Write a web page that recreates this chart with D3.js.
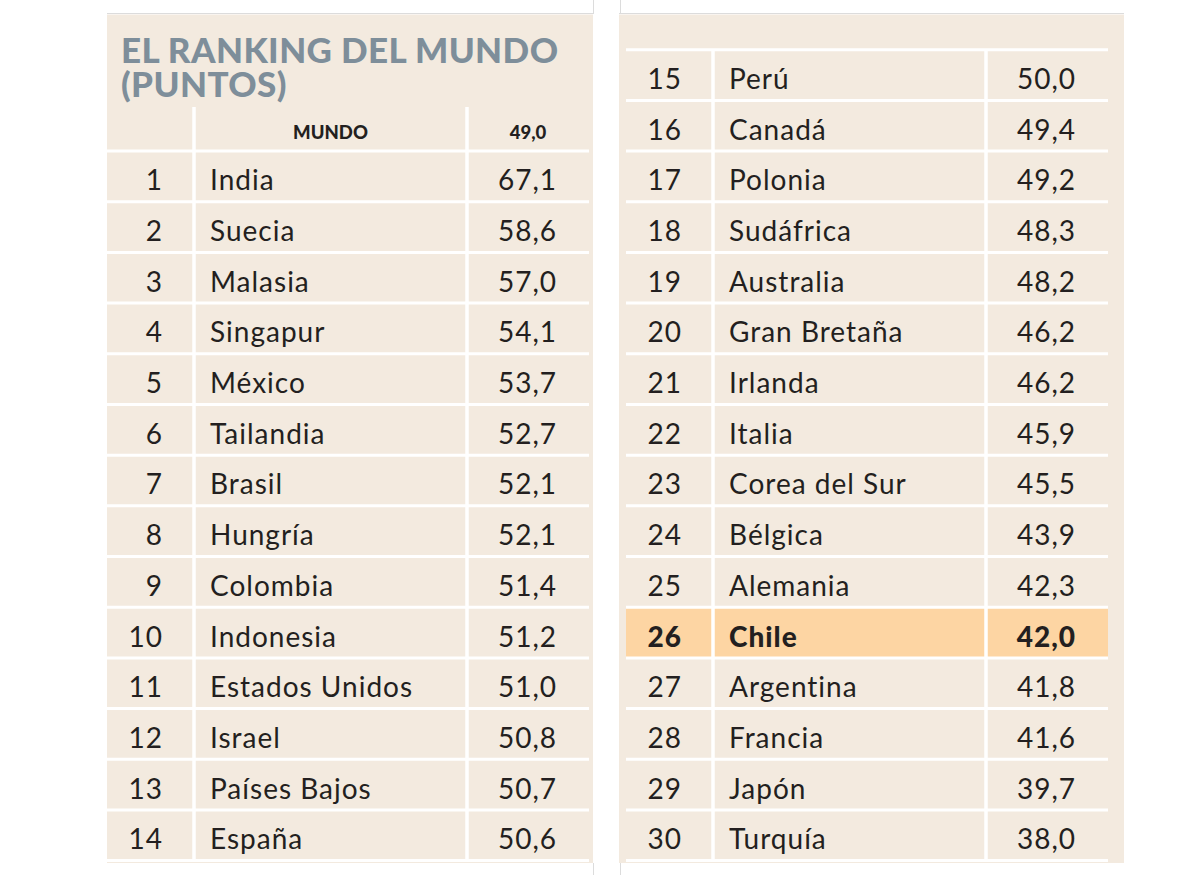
<!DOCTYPE html>
<html>
<head>
<meta charset="utf-8">
<script src="https://cdn.jsdelivr.net/npm/d3@7/dist/d3.min.js"></script>
<style>
  html, body { margin: 0; padding: 0; background: #ffffff; }
  svg { display: block; }
</style>
</head>
<body>
<svg id="chart" width="1200" height="875"></svg>
<script>
// ---- data ----
const title = ["EL RANKING DEL MUNDO", "(PUNTOS)"];
const headerLabel = "MUNDO";
const headerValue = 49.0;
const ranks = d3.range(1, 31);
const countries = ["India", "Suecia", "Malasia", "Singapur", "México", "Tailandia", "Brasil",
  "Hungría", "Colombia", "Indonesia", "Estados Unidos", "Israel", "Países Bajos", "España",
  "Perú", "Canadá", "Polonia", "Sudáfrica", "Australia", "Gran Bretaña", "Irlanda", "Italia",
  "Corea del Sur", "Bélgica", "Alemania", "Chile", "Argentina", "Francia", "Japón", "Turquía"];
const values = [67.1, 58.6, 57.0, 54.1, 53.7, 52.7, 52.1, 52.1, 51.4, 51.2, 51.0, 50.8, 50.7, 50.6,
  50.0, 49.4, 49.2, 48.3, 48.2, 46.2, 46.2, 45.9, 45.5, 43.9, 42.3, 42.0, 41.8, 41.6, 39.7, 38.0];
const highlight = "Chile";

// ---- layout ----
const svg = d3.select("#chart");
const fmt = v => d3.format(".1f")(v).replace(".", ",");
const font = "Lato, 'Open Sans', sans-serif";
const beige = "#f3eadf";
const ink = "#231f20";

const rows = ranks.map((r, i) => ({
  rank: r, country: countries[i], value: values[i],
  panel: i < 14 ? 0 : 1,
  slot: i < 14 ? i + 2 : i - 14
}));

const y = d3.scaleBand().domain(d3.range(16)).range([49.7, 860.6]).paddingInner(0);
const panels = [
  { bg: [107, 593], cols: [107, 194, 467, 589], vTop: 107 },
  { bg: [619, 1124], cols: [626, 713, 986, 1108], vTop: y(0) }
];

// gray frame lines + beige panels
const gray = "#dcdcdc";
panels.forEach(p => {
  svg.append("rect").attr("x", p.bg[0]).attr("y", 14.5).attr("width", p.bg[1] - p.bg[0])
    .attr("height", 863 - 14.5).attr("fill", beige);
  svg.append("line").attr("x1", p.bg[0]).attr("x2", p.bg[1]).attr("y1", 13.5).attr("y2", 13.5)
    .attr("stroke", gray).attr("stroke-width", 1);
});
[[593.5, 0, 14], [620.5, 0, 14], [593.5, 863, 875], [620.5, 863, 875]].forEach(d => {
  svg.append("line").attr("x1", d[0]).attr("x2", d[0]).attr("y1", d[1]).attr("y2", d[2])
    .attr("stroke", gray).attr("stroke-width", 1);
});

// highlight row
rows.filter(d => d.country === highlight).forEach(d => {
  const p = panels[d.panel];
  svg.append("rect").attr("x", p.cols[0]).attr("y", y(d.slot))
    .attr("width", p.cols[3] - p.cols[0]).attr("height", y.bandwidth())
    .attr("fill", "#fdd5a3");
});

// grid lines (white)
panels.forEach((p, pi) => {
  const firstSlot = pi === 0 ? 2 : 0;
  const ys = d3.range(firstSlot, 16).map(s => y(s)).concat([y(15) + y.bandwidth()]);
  svg.append("g").selectAll("line").data(ys).join("line")
    .attr("x1", p.cols[0]).attr("x2", p.cols[3])
    .attr("y1", d => d).attr("y2", d => d)
    .attr("stroke", "#ffffff").attr("stroke-width", 3);
  svg.append("g").selectAll("line").data([p.cols[1], p.cols[2]]).join("line")
    .attr("x1", d => d).attr("x2", d => d)
    .attr("y1", p.vTop).attr("y2", y(15) + y.bandwidth())
    .attr("stroke", "#ffffff").attr("stroke-width", 3.5);
});

// title (two lines)
svg.append("g").selectAll("text").data(title).join("text")
  .attr("x", 121).attr("y", (d, i) => 63 + i * 34)
  .attr("font-family", font).attr("font-weight", 900).attr("font-size", 35)
  .attr("fill", "#7e8e9a").attr("letter-spacing", 0.4)
  .text(d => d);

// header row (slot 1, left panel)
const hp = panels[0];
const hy = y(1) + y.bandwidth() / 2 + 13;
svg.append("text").attr("x", (hp.cols[1] + hp.cols[2]) / 2).attr("y", hy)
  .attr("text-anchor", "middle").attr("font-family", font).attr("font-weight", 900)
  .attr("font-size", 18.5).attr("fill", ink).text(headerLabel);
svg.append("text").attr("x", (hp.cols[2] + hp.cols[3]) / 2).attr("y", hy)
  .attr("text-anchor", "middle").attr("font-family", font).attr("font-weight", 900)
  .attr("font-size", 18.5).attr("fill", ink).text(fmt(headerValue));

// body rows
const g = svg.append("g").attr("font-family", font).attr("font-size", 28)
  .attr("letter-spacing", 1).attr("fill", ink);
const rowG = g.selectAll("g.row").data(rows).join("g").attr("class", "row")
  .attr("font-weight", d => d.country === highlight ? 900 : 400);
const base = d => y(d.slot) + y.bandwidth() / 2 + 14;
rowG.append("text").attr("x", d => panels[d.panel].cols[1] - 31).attr("y", base)
  .attr("text-anchor", "end").text(d => d.rank);
rowG.append("text").attr("x", d => panels[d.panel].cols[1] + 16).attr("y", base)
  .text(d => d.country);
rowG.append("text").attr("x", d => panels[d.panel].cols[3] - 32).attr("y", base)
  .attr("text-anchor", "end").text(d => fmt(d.value));
</script>
</body>
</html>
